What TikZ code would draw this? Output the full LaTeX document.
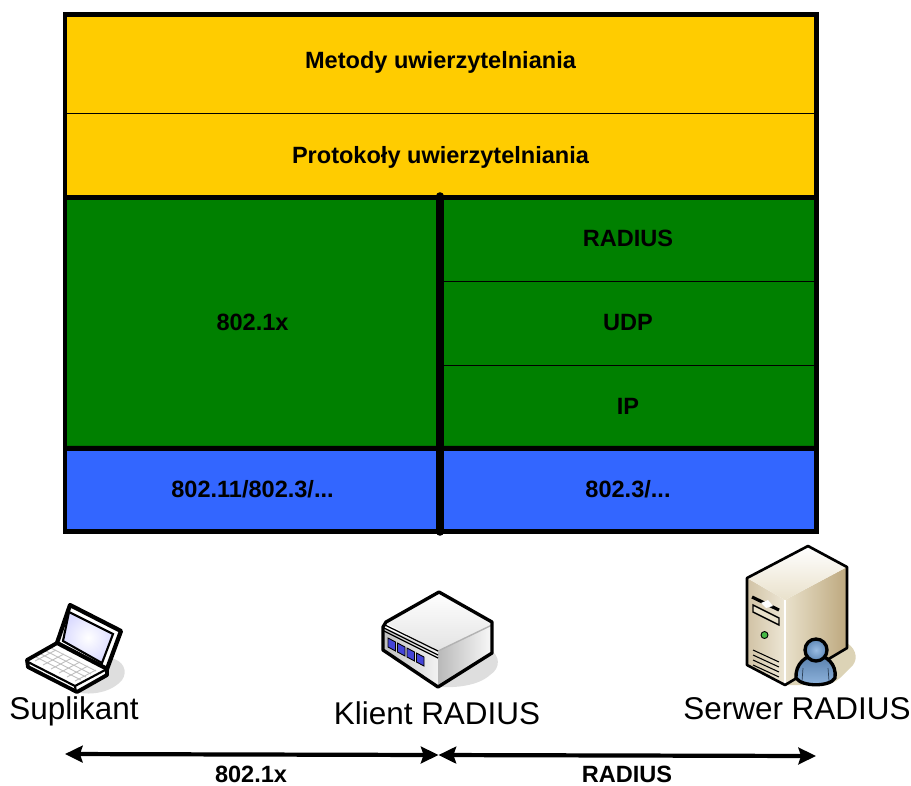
\documentclass[tikz,border=0pt]{standalone}
\usepackage{fontspec}
\setmainfont{Liberation Sans}
\definecolor{netGold}{HTML}{FFCC00}
\definecolor{netGreen}{HTML}{008000}
\definecolor{netBlue}{HTML}{3366FF}
\definecolor{netTan}{HTML}{E9E1CB}
\definecolor{netSide}{HTML}{BDA87E}
\definecolor{netShade}{HTML}{DCD3B6}
\definecolor{netGrey}{HTML}{DEDEDE}
\definecolor{netUser}{HTML}{6E9FD6}
\definecolor{netPort}{HTML}{4444D8}
\usetikzlibrary{arrows.meta}

\begin{document}
\begin{tikzpicture}[
  x=0.02cm, y=-0.02cm,
  layer/.style={draw=black, line width=0.5pt, inner sep=0pt, align=center,
    font=\fontsize{13.4}{16}\selectfont\bfseries},
  frame/.style={line width=2.4pt, line join=miter},
  rule/.style={line width=2.8pt},
  divider/.style={line width=4.3pt, line cap=round},
  link/.style={{Stealth[length=10pt,width=9.5pt,inset=1.5pt]}-{Stealth[length=10pt,width=9.5pt,inset=1.5pt]}, line width=2.4pt},
  device/.style={font=\fontsize{17.9}{20}\selectfont},
  linklabel/.style={inner sep=0pt, font=\fontsize{13.4}{16}\selectfont\bfseries},
  outline/.style={draw=black, line width=1.9pt, line join=round}
]
  \useasboundingbox (0,0) rectangle (911,785);

  % Stack
  \node[layer, fill=netGold, minimum width=15.02cm, minimum height=1.96cm] (metody) at (440.5,64) {};
  \node[layer, fill=netGold, minimum width=15.02cm, minimum height=1.68cm] (proto) at (440.5,155) {};
  \node[layer, fill=netGreen, minimum width=7.5cm, minimum height=5.02cm] (dot1x) at (252.5,322.5) {802.1x};
  \node[layer, fill=netGreen, minimum width=7.52cm, minimum height=1.68cm] (radius) at (628,239) {\raisebox{0.02cm}{RADIUS}};
  \node[layer, fill=netGreen, minimum width=7.52cm, minimum height=1.68cm] (udp) at (628,323) {\raisebox{0.02cm}{UDP}};
  \node[layer, fill=netGreen, minimum width=7.52cm, minimum height=1.66cm] (ip) at (628,406.5) {\raisebox{0.02cm}{IP}};
  \node[layer, fill=netBlue, minimum width=7.5cm, minimum height=1.66cm] (wlan) at (252.5,489.5) {802.11/802.3/...};
  \node[layer, fill=netBlue, minimum width=7.52cm, minimum height=1.66cm] (eth) at (628,489.5) {802.3/...};
  \node[linklabel] (metodytext) at (440.5,62.5) {Metody uwierzytelniania};
  \node[linklabel] (prototext) at (440.5,157) {Protokoły uwierzytelniania};

  \draw[frame] (metody.north west) rectangle (eth.south east);
  \draw[rule] (proto.south west) -- (proto.south east);
  \draw[rule] (dot1x.south west) -- (ip.south east);
  \coordinate (divtop) at (440,196);
  \coordinate (divbot) at (440,532);
  \draw[divider] (divtop) -- (divbot);

  % Laptop
  \fill[netGrey] (110,658) .. controls (124,660) and (128,672) .. (122,680) .. controls (112,692) and (92,696) .. (76,692) -- cycle;
  \draw[outline, line width=2.4pt, fill=white] (70,605) -- (121,631) -- (107,669) -- (57,643) -- cycle;
  \draw[draw=black, line width=1.2pt, inner color=white, outer color=blue!14!white] (69,612) -- (113,634) -- (102,663) -- (63,641) -- cycle;
  \fill[white] (27,660) -- (57,643) -- (107,669) -- (107,675) -- (77,692) -- (28,667) -- cycle;
  \foreach \i in {0,...,5}
    \draw[gray!50, line width=0.5pt] (56+\i*8,650+\i*4) -- (35+\i*8,661+\i*4);
  \foreach \i in {0,...,3}
    \draw[gray!50, line width=0.5pt] (51-\i*5,648+\i*3) -- (96-\i*5,671+\i*3);
  \draw[black, line width=1.2pt] (28,662) -- (75,686) -- (107,669);
  \draw[black, line width=1.2pt] (75,686) -- (76,692);
  \draw[outline, line width=2.2pt] (27,660) -- (57,643) -- (107,669) -- (107,675) -- (77,692) -- (28,667) -- cycle;

  % Switch
  \fill[netGrey] (490,650) .. controls (500,655) and (501,668) .. (490,675) .. controls (478,686) and (455,688) .. (438,687) -- cycle;
  \shade[left color=gray!50, right color=gray!10] (383,627) -- (438,651) -- (438,687) -- (383,650) -- cycle;
  \shade[shading angle=60, left color=gray!55, right color=gray!5] (438,651) -- (492,625) -- (492,653) -- (438,687) -- cycle;
  \shade[top color=white, bottom color=gray!22] (439,592) -- (492,622) -- (492,625) -- (438,651) -- (386,623) -- cycle;
  \draw[gray!60, line width=0.8pt] (438,651) -- (492,625);
  \draw[black, line width=0.7pt] (385,625) -- (438,651);
  \draw[black, line width=0.7pt] (384,628) -- (438,655);
  \draw[black, line width=0.7pt] (384,631) -- (438,658);
  \foreach \i in {0,1,2,3}
    \draw[black, line width=0.5pt, fill=netPort] (388+\i*9.5,638+\i*5) -- ++(7.5,4) -- ++(0,9) -- ++(-7.5,-4) -- cycle;
  \draw[outline] (439,592) -- (492,622) -- (492,653) -- (438,687) -- (383,650) -- (383,627) -- (386,622) -- cycle;

  % Server
  \fill[netShade] (847,643) .. controls (858,650) and (858,662) .. (850,668) .. controls (842,676) and (838,682) .. (826,685) -- (785,685) -- cycle;
  \shade[shading angle=20, left color=netSide!70, right color=netTan!80] (747,578) -- (785,600) -- (785,685) -- (747,665) -- cycle;
  \shade[left color=netTan, right color=netSide] (785,600) -- (847,567) -- (847,648) -- (785,685) -- cycle;
  \shade[top color=white, bottom color=netTan] (808,546) -- (847,567) -- (785,600) -- (747,578) -- cycle;
  \draw[white, line width=0.7pt] (785,600) -- (785,685);
  \draw[black, line width=1.8pt] (752,597) -- (779,610);
  \fill[white] (761,603) -- (768,600) -- (773,606) -- (766,608) -- cycle;
  \draw[black, line width=0.8pt, fill=netTan] (753,605) -- (779,618) -- (779,625) -- (753,612) -- cycle;
  \draw[black, line width=0.5pt, fill=green!45!gray] (764.5,635) circle (3.5);
  \foreach \i in {0,1,2,3}
    \draw[black, line width=0.6pt] (753,650+\i*5) -- (779,662+\i*5);
  \draw[outline, line width=1.5pt] (808,546) -- (847,567) -- (847,648) -- (785,685) -- (747,665) -- (747,578) -- cycle;
  % user badge
  \draw[outline, top color=netUser!80!black, bottom color=netUser!75!white] (796,678) .. controls (795,664) and (806,655) .. (816,655) .. controls (826,655) and (837,664) .. (835,678) .. controls (830,687) and (802,687) .. (796,678) -- cycle;
  \draw[netUser!40!black, line width=0.4pt] (803,668) -- (802,681);
  \draw[netUser!40!black, line width=0.4pt] (828,668) -- (829,681);
  \draw[outline, inner color=netUser!70!white, outer color=netUser!85!black] (816,650) circle (11);

  % Labels
  \node[device] (suplikant) at (74,711) {Suplikant};
  \node[device] (klient) at (437,713) {Klient RADIUS};
  \node[device] (serwer) at (797,709) {Serwer RADIUS};

  % Links
  \coordinate (linkL) at (65,754);
  \coordinate (linkM) at (438.5,755);
  \coordinate (linkR) at (816,756);
  \draw[link] (linkL) -- (linkM);
  \draw[link] (linkM) -- (linkR);
  \node[linklabel] (lab8021x) at (251,774) {802.1x};
  \node[linklabel] (labradius) at (627,774) {RADIUS};
\end{tikzpicture}
\end{document}
